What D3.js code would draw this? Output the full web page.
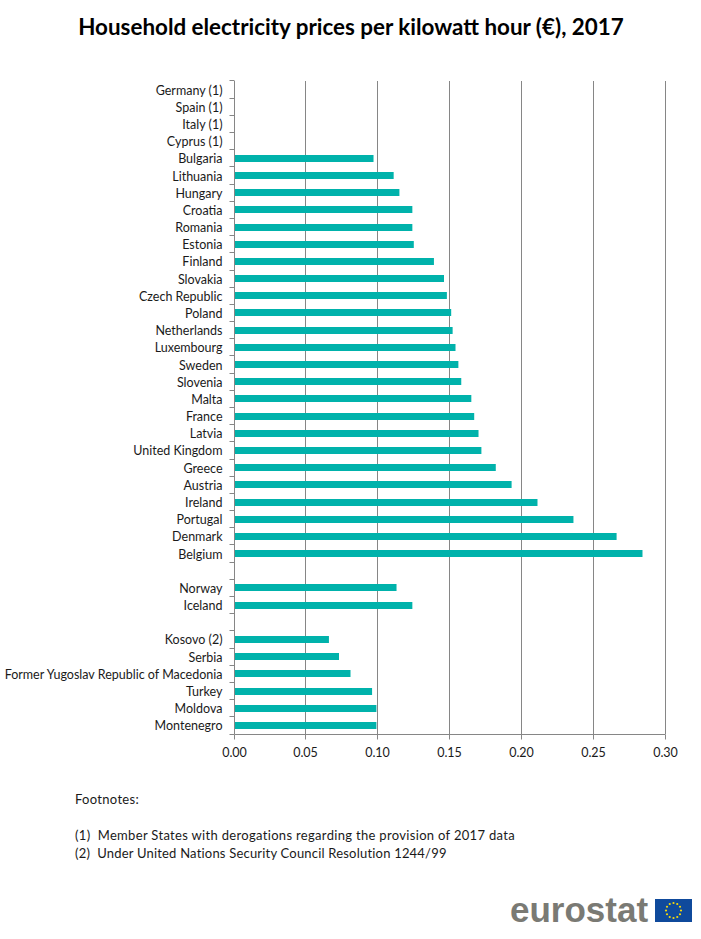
<!DOCTYPE html>
<html>
<head>
<meta charset="utf-8">
<title>Household electricity prices</title>
<script src="https://cdn.jsdelivr.net/npm/d3@7"></script>
<style>
  html, body { margin: 0; padding: 0; background: #fff; }
  text { font-family: Lato, "Open Sans", sans-serif; fill: #1a1a1a; }
</style>
</head>
<body>
<div id="chart"></div>
<script>
// Width and height
const width = 701;
const height = 939;

// Chart data, top to bottom. Blank names are the gaps between the groups
const countries = [
  "Germany (1)", "Spain (1)", "Italy (1)", "Cyprus (1)", "Bulgaria", "Lithuania", "Hungary",
  "Croatia", "Romania", "Estonia", "Finland", "Slovakia", "Czech Republic", "Poland",
  "Netherlands", "Luxembourg", "Sweden", "Slovenia", "Malta", "France", "Latvia",
  "United Kingdom", "Greece", "Austria", "Ireland", "Portugal", "Denmark", "Belgium",
  " ", "Norway", "Iceland", "  ", "Kosovo (2)", "Serbia",
  "Former Yugoslav Republic of Macedonia", "Turkey", "Moldova", "Montenegro"
];
const prices = [
  null, null, null, null, 0.097, 0.111, 0.115,
  0.124, 0.124, 0.125, 0.139, 0.146, 0.148, 0.151,
  0.152, 0.154, 0.156, 0.158, 0.165, 0.167, 0.170,
  0.172, 0.182, 0.193, 0.211, 0.236, 0.266, 0.284,
  null, 0.113, 0.124, null, 0.066, 0.073,
  0.081, 0.096, 0.099, 0.099
];
const xTicks = [0, 0.05, 0.10, 0.15, 0.20, 0.25, 0.30];
const footnotes = [
  "(1)  Member States with derogations regarding the provision of 2017 data",
  "(2)  Under United Nations Security Council Resolution 1244/99"
];

const axisColor = "#868686";
const barColor = "#00b2ab";

// Create SVG element
const svg = d3.select("#chart")
  .append("svg")
  .attr("width", width)
  .attr("height", height)
  .style("display", "block");

// Scales
const x = d3.scaleLinear().domain([0, 0.30]).range([234, 665.5]);
const y = d3.scaleBand().domain(countries).range([81, 734]);

// keep thin lines on whole pixels
const snap = v => Math.floor(v) + 0.5;

// Title
svg.append("text")
  .attr("x", 351)
  .attr("y", 35)
  .attr("text-anchor", "middle")
  .style("font-size", "22.4px")
  .style("font-weight", 700)
  .style("fill", "#000")
  .text("Household electricity prices per kilowatt hour (€), 2017");

// Vertical gridlines
svg.selectAll("line.grid")
  .data(xTicks.slice(1))
  .enter()
  .append("line")
  .attr("class", "grid")
  .attr("x1", d => snap(x(d)))
  .attr("x2", d => snap(x(d)))
  .attr("y1", y.range()[0])
  .attr("y2", y.range()[1])
  .attr("stroke", axisColor);

// Bars
svg.selectAll("rect.bar")
  .data(countries.map((c, i) => ({ country: c, price: prices[i] })).filter(d => d.price !== null))
  .enter()
  .append("rect")
  .attr("class", "bar")
  .attr("x", snap(x(0)))
  .attr("y", d => Math.round(y(d.country) + y.bandwidth() / 2 - 3.5))
  .attr("width", d => x(d.price) - snap(x(0)))
  .attr("height", 7)
  .attr("fill", barColor);

// Bottom axis
const xAxis = svg.append("g")
  .attr("transform", `translate(0,${y.range()[1] + 0.5})`)
  .call(d3.axisBottom(x).tickValues(xTicks).tickFormat(d3.format(".2f")).tickSize(5).tickSizeOuter(0).tickPadding(9).offset(0));
xAxis.selectAll(".tick").attr("transform", d => `translate(${snap(x(d))},0)`);
xAxis.selectAll("path, line").attr("stroke", axisColor);
xAxis.select("path").attr("d", `M${snap(x(0))},0H${snap(x(0.30))}`);
xAxis.selectAll("text")
  .style("font-size", "12.5px")
  .style("font-family", "Lato, sans-serif")
  .attr("fill", "#1a1a1a");

// Left axis, the ticks sit between the categories
const yAxis = svg.append("g")
  .attr("transform", `translate(${snap(x(0))},1)`)
  .call(d3.axisLeft(y).tickSize(0).tickPadding(12).offset(0));
yAxis.select("path").attr("stroke", "none");
yAxis.selectAll("text")
  .style("font-size", "12.5px")
  .style("font-family", "Lato, sans-serif")
  .attr("fill", "#1a1a1a");

svg.append("line")
  .attr("x1", snap(x(0)))
  .attr("x2", snap(x(0)))
  .attr("y1", y.range()[0])
  .attr("y2", y.range()[1])
  .attr("stroke", axisColor);

svg.selectAll("line.ytick")
  .data(countries.map(c => y(c)).concat(y.range()[1]))
  .enter()
  .append("line")
  .attr("class", "ytick")
  .attr("x1", snap(x(0)) - 5)
  .attr("x2", snap(x(0)))
  .attr("y1", d => snap(d))
  .attr("y2", d => snap(d))
  .attr("stroke", axisColor);

// Footnotes
svg.append("text")
  .attr("x", 75)
  .attr("y", 804)
  .style("font-size", "13px")
  .style("letter-spacing", "0.3px")
  .text("Footnotes:");

svg.selectAll("text.note")
  .data(footnotes)
  .enter()
  .append("text")
  .attr("class", "note")
  .attr("x", 75)
  .attr("y", (d, i) => 840 + i * 18)
  .attr("xml:space", "preserve")
  .style("white-space", "pre")
  .style("font-size", "13px")
  .style("letter-spacing", (d, i) => i ? "0.2px" : "0.32px")
  .text(d => d);

// Eurostat logo
svg.append("text")
  .attr("x", 510)
  .attr("y", 922)
  .style("font-family", "'Liberation Sans', sans-serif")
  .style("font-size", "35px")
  .style("font-weight", 700)
  .style("fill", "#7a7a74")
  .text("eurostat");

svg.append("rect")
  .attr("x", 655)
  .attr("y", 899)
  .attr("width", 37)
  .attr("height", 23)
  .attr("fill", "#0f4a9c");

svg.selectAll("circle.star")
  .data(d3.range(12))
  .enter()
  .append("circle")
  .attr("class", "star")
  .attr("cx", d => 673.5 + 7.5 * Math.cos(d * Math.PI / 6))
  .attr("cy", d => 910.5 + 7.5 * Math.sin(d * Math.PI / 6))
  .attr("r", 1.1)
  .attr("fill", "#f5d90a");
</script>
</body>
</html>
